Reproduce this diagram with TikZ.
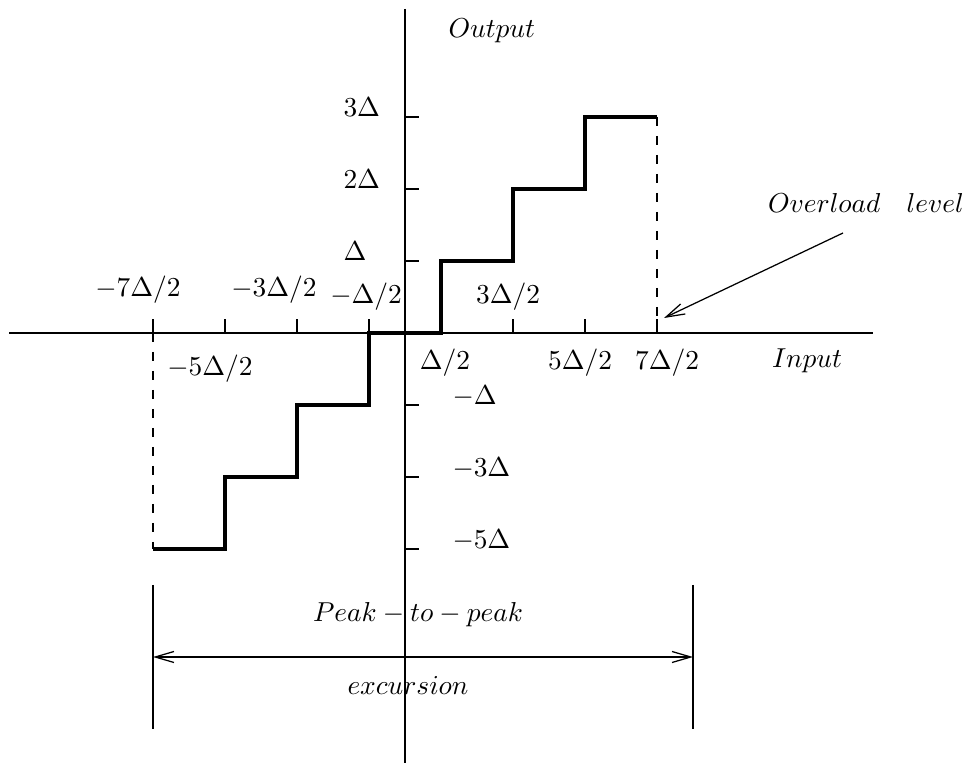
\documentclass[tikz,border=0pt]{standalone}
\usetikzlibrary{arrows.meta}
\begin{document}
\begin{tikzpicture}[x=0.4pt,y=-0.4pt,
  font=\fontsize{10.5}{12}\selectfont,
  axis/.style={line width=0.5pt},
  tickmark/.style={line width=0.5pt},
  stair/.style={line width=1.7pt, line join=miter},
  guide/.style={line width=0.5pt, dash pattern=on 3.6pt off 4pt},
  bar/.style={line width=0.45pt},
  lbl/.style={inner sep=0pt, anchor=base},
  barb/.tip={Straight Barb[length=7.5pt,width=4.4pt,line width=0.5pt]},
  tipped/.style={line width=0.5pt,-barb},
  both/.style={line width=0.5pt,barb-barb}]
\useasboundingbox (0,0) rectangle (967,764);
% axes
\coordinate (xl) at (9,333);
\coordinate (xr) at (873,333);
\coordinate (yt) at (405,9);
\coordinate (yb) at (405,763);
\draw[axis] (xl) -- (xr);
\draw[axis] (yt) -- (yb);
% ticks
\foreach \x in {153,225,297,369,441,513,585,657}
  \draw[tickmark] (\x,333) -- (\x,319);
\foreach \y in {117,189,261,405,477,549}
  \draw[tickmark] (405,\y) -- (419,\y);
% staircase
\coordinate (s0) at (153,549);
\coordinate (s7) at (657,117);
\draw[stair] (s0) -| (225,477) -| (297,405) -| (369,333) -| (441,261)
  -| (513,189) -| (585,117) -- (s7);
% dashed guides
\coordinate (g0) at (153,333);
\coordinate (g7) at (657,333);
\draw[guide] (g0) -- (s0);
\draw[guide] (s7) -- (g7);
% overload arrow
\coordinate (oa) at (843,233);
\coordinate (ob) at (664,318);
\draw[tipped] (oa) -- (ob);
% peak-to-peak bars
\coordinate (pl1) at (153,585); \coordinate (pl2) at (153,729);
\coordinate (pr1) at (693,585); \coordinate (pr2) at (693,729);
\draw[bar] (pl1) -- (pl2);
\draw[bar] (pr1) -- (pr2);
\coordinate (al) at (153,657); \coordinate (ar) at (693,657);
\draw[both] (al) -- (ar);
% y labels
\node[lbl,anchor=base west] (y3) at (343,117) {$3\Delta$};
\node[lbl,anchor=base west] (y2) at (343,189) {$2\Delta$};
\node[lbl,anchor=base west] (y1) at (343,261) {$\Delta$};
\node[lbl,anchor=base west] (ym1) at (452,405) {$-\Delta$};
\node[lbl,anchor=base west] (ym3) at (452,477) {$-3\Delta$};
\node[lbl,anchor=base west] (ym5) at (452,549) {$-5\Delta$};
% x labels
\node[lbl] (xm7) at (138,297) {$-7\Delta/2$};
\node[lbl] (xm3) at (274,297) {$-3\Delta/2$};
\node[lbl] (xm1) at (366,304) {$-\Delta/2$};
\node[lbl] (xp3) at (508,304) {$3\Delta/2$};
\node[lbl] (xm5) at (210,376) {$-5\Delta/2$};
\node[lbl] (xp1) at (445,370) {$\Delta/2$};
\node[lbl] (xp5) at (580,370) {$5\Delta/2$};
\node[lbl] (xp7) at (667,370) {$7\Delta/2$};
% titles
\node[lbl,anchor=base west] (out) at (448,38) {$Output$};
\node[lbl] (inp) at (807,368) {$Input$};
\node[lbl] (ovl) at (866,213) {$Overload\quad level$};
\node[lbl] (ptp) at (418,622) {$Peak-to-peak$};
\node[lbl] (exc) at (408,695) {$excursion$};
\end{tikzpicture}
\end{document}
